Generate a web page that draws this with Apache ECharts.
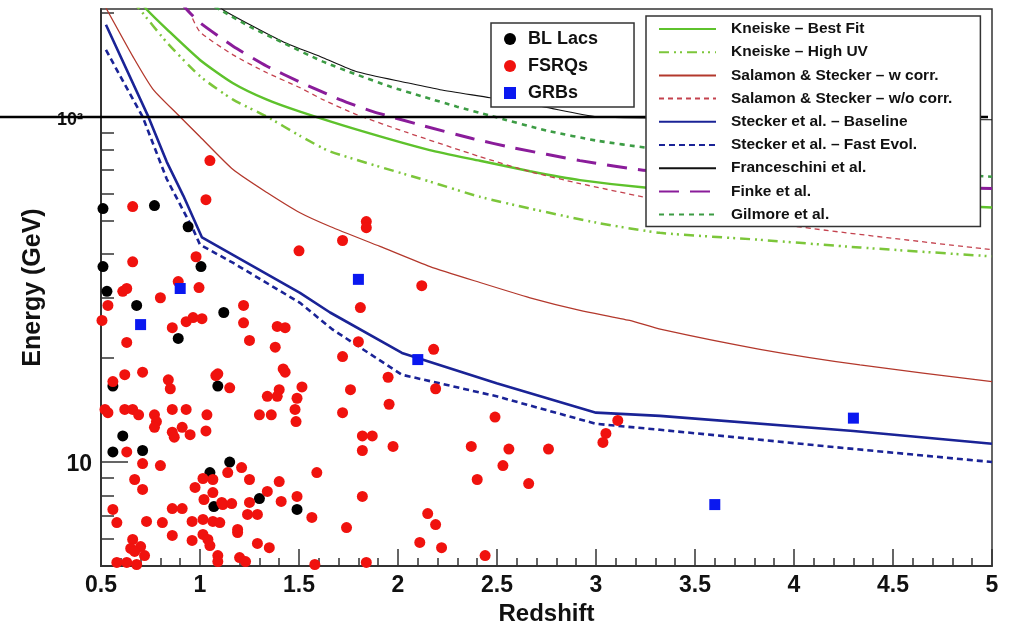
<!DOCTYPE html>
<html><head><meta charset="utf-8">
<script src="https://cdn.jsdelivr.net/npm/echarts@6/dist/echarts.min.js"></script>
<style>html,body{margin:0;padding:0;background:#fff}#c{width:1009px;height:626px}</style>
</head><body><div id="c"></div>
<script>
// ---------- data ----------
const xTickLabels = ['0.5','1','1.5','2','2.5','3','3.5','4','4.5','5'];
const yMajorTicks = [10, 100];
const yMinorTicks = [6, 7, 8, 9, 20, 30, 40, 50, 60, 70, 80, 90, 200];

const blLacs = [[0.51,54.2],[0.77,55.3],[0.94,48.0],[0.51,36.8],[1.005,36.8],[0.53,31.2],[0.68,28.4],[1.12,27.1],[0.89,22.8],[0.56,16.6],[1.09,16.6],[0.61,11.9],[0.56,10.7],[0.71,10.8],[1.15,10.0],[1.05,9.32],[1.07,7.43],[1.30,7.84],[1.49,7.29]];

const fsrqs = [[1.05,74.6],[1.03,57.5],[0.66,54.9],[0.66,38.0],[0.98,39.3],[0.89,33.3],[0.995,32.0],[0.61,31.2],[0.63,31.8],[0.80,29.9],
[0.535,28.4],[1.22,28.4],[1.50,40.9],[1.72,43.8],[0.505,25.7],[0.86,24.5],[0.93,25.5],[0.965,26.2],[1.01,26.0],[1.22,25.3],
[1.39,24.7],[1.43,24.5],[0.63,22.2],[1.25,22.5],[1.38,21.5],[1.42,18.6],[1.43,18.2],[0.56,17.1],[0.62,17.9],[0.71,18.2],
[0.84,17.3],[0.85,16.3],[1.08,17.8],[1.09,18.0],[1.15,16.4],[1.34,15.5],[1.40,16.2],[1.39,15.5],[1.515,16.5],[1.49,15.3],
[1.48,14.2],[1.485,13.1],[0.52,14.2],[0.535,13.9],[0.62,14.2],[0.66,14.2],[0.69,13.7],[0.77,13.7],[0.78,13.1],[0.77,12.6],
[0.86,14.2],[0.93,14.2],[0.86,12.2],[0.87,11.8],[0.91,12.6],[0.95,12.0],[1.035,13.7],[1.03,12.3],[1.30,13.7],[1.36,13.7],
[0.63,10.7],[0.71,9.90],[0.80,9.77],[0.67,8.90],[0.71,8.33],[0.56,7.29],[0.58,6.68],[0.66,5.97],[0.65,5.62],[0.70,5.69],
[0.72,5.36],[0.67,5.51],[0.58,5.12],[0.63,5.12],[0.68,5.05],[0.73,6.73],[0.81,6.68],[0.86,6.13],[0.86,7.33],[0.91,7.33],
[0.975,8.44],[1.015,8.96],[1.065,8.90],[1.02,7.79],[1.065,8.16],[1.11,7.64],[0.96,6.73],[1.015,6.82],[1.065,6.73],[1.10,6.68],
[0.96,5.93],[1.015,6.17],[1.04,5.97],[1.05,5.73],[1.09,5.36],[1.09,5.15],[1.115,7.53],[1.16,7.58],[1.14,9.32],[1.21,9.64],
[1.25,8.90],[1.19,6.38],[1.19,6.25],[1.24,7.05],[1.25,7.64],[1.29,7.05],[1.20,5.29],[1.23,5.15],[1.29,5.81],[1.35,5.65],
[1.34,8.22],[1.40,8.78],[1.41,7.69],[1.49,7.95],[1.565,6.91],[1.59,9.32],[1.58,5.05],[1.72,13.9],[1.72,20.2],[1.84,49.7],
[1.84,47.7],[2.12,32.4],[1.81,28.0],[1.80,22.3],[2.18,21.2],[1.95,17.6],[1.76,16.2],[2.19,16.3],[1.955,14.7],[2.49,13.5],
[3.11,13.2],[3.05,12.1],[3.035,11.4],[1.82,11.9],[1.87,11.9],[1.82,10.8],[1.975,11.1],[2.37,11.1],[2.56,10.9],[2.76,10.9],
[2.53,9.77],[2.40,8.90],[2.66,8.66],[1.82,7.95],[2.15,7.09],[2.19,6.59],[1.74,6.46],[2.11,5.85],[2.22,5.65],[2.44,5.36],[1.84,5.12]];

const grbs = [[0.90,31.8],[0.70,25.0],[1.80,33.8],[2.10,19.8],[4.30,13.4],[3.60,7.53]];

const kneiskeBest = [[0.70,216],[0.732,204],[0.833,179],[1.0,146],[1.167,125],[1.338,112],[1.505,103.4],[1.793,91.7],[2.16,80],[2.414,74.5],[2.667,69.5],[2.919,65.5],[3.258,62.3],[4.0,58],[5.0,54.6]];
const kneiskeHighUV = [[0.66,216],[0.697,204],[0.833,164],[1.0,131],[1.167,112],[1.338,100],[1.505,88],[1.657,79.3],[2.16,64.9],[2.414,58.6],[2.667,54.2],[3.005,49.3],[3.323,46.1],[3.828,44.0],[4.333,41.8],[5.0,39.4]];
const salamonCorr = [[0.5,219],[0.53,204],[0.662,149],[0.763,120],[0.899,100],[1.0,87.5],[1.167,70.3],[1.338,60.3],[1.505,52.7],[1.66,48],[1.909,42.1],[2.162,36.8],[2.414,33.1],[2.667,29.9],[2.919,27.5],[3.17,25.7],[3.33,24.2],[3.828,21.2],[4.333,19.1],[5.0,17.1]];
const salamonNoCorr = [[0.93,215],[0.949,200],[1.0,176],[1.167,151],[1.338,134],[1.505,121.3],[1.621,112],[1.793,101.3],[2.045,90],[2.414,76.6],[2.667,69.3],[2.919,64],[3.237,58.6],[3.98,48.4],[5.0,41.2]];
const steckerBase = [[0.525,184.6],[0.739,100],[0.832,74],[0.916,59],[1.01,44.7],[1.505,30.9],[1.657,27.1],[2.02,20.7],[2.498,16.9],[3.0,13.9],[3.323,13.6],[4.3,12.3],[5.0,11.3]];
const steckerFast = [[0.525,156],[0.71,100],[0.832,66],[0.966,47.1],[1.0,42.6],[1.168,37.7],[1.505,28.9],[1.665,24.3],[2.019,17.9],[2.498,15.5],[3.0,12.9],[3.323,12.4],[4.165,11.1],[5.0,10.0]];
const franceschini = [[1.07,216],[1.116,204],[1.253,184.5],[1.419,164.9],[1.621,148.2],[1.793,134.9],[2.045,125.4],[2.212,119.7],[2.465,113.5],[2.732,106.9],[3.005,100],[3.5,99],[4.0,98.5],[5.0,98]];
const finke = [[0.90,216],[0.934,204],[1.0,187],[1.167,160],[1.338,140],[1.505,126],[1.707,112],[1.874,103.4],[2.126,94.2],[2.379,86.3],[2.581,81.3],[2.919,74.6],[3.258,69.8],[4.03,64.9],[5.0,61.9]];
const gilmore = [[1.03,215],[1.101,204],[1.253,182],[1.419,163.7],[1.621,144.3],[1.793,132.3],[1.96,122.2],[2.126,114.3],[2.298,106.9],[2.465,100.7],[2.753,91.1],[3.005,85.2],[3.258,81.3],[4.03,72.6],[5.0,67]];

// ---------- chart ----------
const F = 'Liberation Sans, Arial, Helvetica, sans-serif';
const chart = echarts.init(document.getElementById('c'));

function lineSeries(name, data, color, width, type, smooth) {
  return { name, type: 'line', data, showSymbol: false, symbol: 'none', clip: true,
    smooth: smooth, z: 2, animation: false,
    lineStyle: { color, width, type } , itemStyle: { color } };
}

const lines = [
  lineSeries('Kneiske – Best Fit', kneiskeBest, '#5ec22c', 2.5, 'solid', 0.2),
  lineSeries('Kneiske – High UV', kneiskeHighUV, '#7cc63a', 2.5, [10,5,2,4,2,5], 0.2),
  lineSeries('Salamon & Stecker – w corr.', salamonCorr, '#b3382c', 1.3, 'solid', 0.2),
  lineSeries('Salamon & Stecker – w/o corr.', salamonNoCorr, '#c4424e', 1.3, [5,4], 0.2),
  lineSeries('Stecker et al. – Baseline', steckerBase, '#1a2396', 2.6, 'solid', false),
  lineSeries('Stecker et al. – Fast Evol.', steckerFast, '#1a2396', 2.6, [6,4], false),
  lineSeries('Franceschini et al.', franceschini, '#111111', 1.1, 'solid', 0.2),
  lineSeries('Finke et al.', finke, '#8a1c9a', 3, [20,11], 0.2),
  lineSeries('Gilmore et al.', gilmore, '#3c9c44', 2.6, [5,5], 0.2)
];

const scatters = [
  { name: 'BL Lacs', type: 'scatter', data: blLacs, symbol: 'circle', symbolSize: 11, z: 3,
    itemStyle: { color: '#000000', opacity: 1 } },
  { name: 'FSRQs', type: 'scatter', data: fsrqs, symbol: 'circle', symbolSize: 11, z: 3,
    itemStyle: { color: '#f0120e', opacity: 1 } },
  { name: 'GRBs', type: 'scatter', data: grbs, symbol: 'rect', symbolSize: 11, z: 3,
    itemStyle: { color: '#0a18f0', opacity: 1 } }
];

const option = {
  animation: false,
  backgroundColor: '#ffffff',
  textStyle: { fontFamily: F },
  grid: { left: 101, right: 17, top: 9, bottom: 60, containLabel: false, outerBoundsMode: 'none',
    show: true, borderColor: '#333', borderWidth: 1.5, backgroundColor: 'transparent' },
  xAxis: {
    type: 'value', min: 0.5, max: 5, interval: 0.5,
    name: 'Redshift', nameLocation: 'middle', nameGap: 36,
    nameTextStyle: { fontFamily: F, fontSize: 24, fontWeight: 'bold', color: '#111' },
    axisLine: { show: true, lineStyle: { color: '#333', width: 2 } },
    axisTick: { show: true, inside: true, length: 17, lineStyle: { color: '#333', width: 1.5 } },
    minorTick: { show: true, splitNumber: 5, length: 8, lineStyle: { color: '#333', width: 1.5 } },
    splitLine: { show: false },
    axisLabel: { margin: 8, fontFamily: F, fontSize: 23, fontWeight: 'bold', color: '#111',
      formatter: (v) => { const i = Math.round((v - 0.5) / 0.5); return xTickLabels[i] !== undefined ? xTickLabels[i] : ''; } }
  },
  yAxis: [
    {
      type: 'log', min: 5, max: 205, position: 'left', offset: 0,
      name: 'Energy (GeV)', nameLocation: 'middle', nameGap: 55,
      nameTextStyle: { fontFamily: F, fontSize: 25, fontWeight: 'bold', color: '#111' },
      axisLine: { show: true, lineStyle: { color: '#333', width: 2 } },
      axisTick: { show: true, inside: true, length: 27, customValues: yMajorTicks, lineStyle: { color: '#333', width: 1.5 } },
      splitLine: { show: false },
      axisLabel: { margin: 9, customValues: yMajorTicks, color: '#111',
        formatter: (v) => (Math.round(v) >= 100 ? '{m|10²}' : '{n|10}'),
        rich: {
          n: { fontFamily: F, fontSize: 23, fontWeight: 'bold', color: '#111', padding: [6, 0, 0, 0] },
          m: { fontFamily: F, fontSize: 18, fontWeight: 'bold', color: '#111', padding: [6, 9, 0, 0] }
        } }
    },
    {
      type: 'log', min: 5, max: 205, position: 'left', offset: 0,
      axisLine: { show: false },
      axisTick: { show: true, inside: true, length: 13, customValues: yMinorTicks, lineStyle: { color: '#333', width: 1.5 } },
      axisLabel: { show: false },
      splitLine: { show: false }
    }
  ],
  legend: [
    {
      orient: 'vertical', left: 491, top: 23, selectedMode: false,
      data: ['BL Lacs', 'FSRQs', 'GRBs'],
      itemWidth: 12, itemHeight: 12, itemGap: 9,
      padding: [7, 36, 5, 13],
      backgroundColor: '#fff', borderColor: '#333', borderWidth: 1.5, borderRadius: 0,
      textStyle: { fontFamily: F, fontSize: 18, fontWeight: 'bold', color: '#111', padding: [0, 0, 0, 7] },
      z: 5
    },
    {
      orient: 'vertical', left: 646, top: 16, selectedMode: false,
      data: lines.map(s => s.name),
      itemWidth: 57, itemHeight: 14, itemGap: 7.2,
      padding: [5, 28, 4, 12],
      itemStyle: { opacity: 0, borderWidth: 0 },
      backgroundColor: '#fff', borderColor: '#333', borderWidth: 1.5, borderRadius: 0,
      textStyle: { fontFamily: F, fontSize: 15.5, fontWeight: 'bold', color: '#111', padding: [0, 0, 0, 10] },
      z: 5
    }
  ],
  graphic: [
    { type: 'line', z: 3, silent: true,
      shape: { x1: 0, y1: 117, x2: 988, y2: 117 },
      style: { stroke: '#000', lineWidth: 2.5 } }
  ],
  series: [...lines, ...scatters]
};
chart.setOption(option);
</script></body></html>
